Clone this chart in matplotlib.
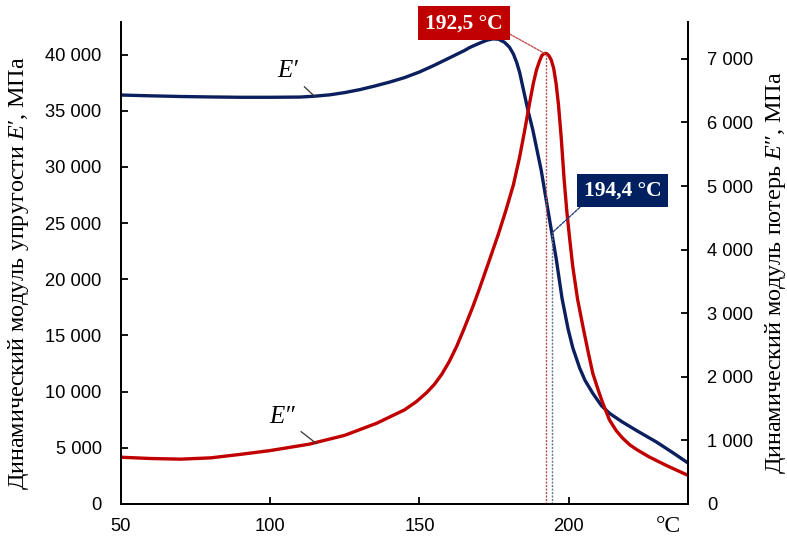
import matplotlib
matplotlib.use("Agg")
import matplotlib.pyplot as plt
from matplotlib.ticker import FuncFormatter

plt.rcParams['mathtext.fontset'] = 'custom'
plt.rcParams['mathtext.rm'] = 'Liberation Serif'
plt.rcParams['mathtext.it'] = 'Liberation Serif:italic'

# E' (storage modulus), left axis, MPa
t_storage = [50, 60, 70, 80, 90, 100, 110, 115, 120, 125, 130, 135, 140, 145, 150, 155,
             160, 165, 167, 170, 172.5, 174.6, 176.5, 178.5, 180.2, 181.5, 182.6, 183.6,
             185, 186.5, 188, 190.8, 192.5, 194.2, 195.8, 197.8, 199.8, 201.4, 203.7,
             205.5, 208.1, 211, 213.7, 218, 223, 229.4, 235, 240]
e_storage = [36400, 36330, 36270, 36230, 36200, 36200, 36220, 36300, 36420, 36620, 36880,
             37200, 37550, 37950, 38450, 39050, 39700, 40350, 40650, 41000, 41270, 41400,
             41370, 41100, 40650, 40050, 39300, 38400, 36700, 34900, 33300, 29720, 27050,
             24380, 21900, 18300, 15600, 13900, 12100, 11000, 9850, 8750, 8070, 7300, 6500,
             5520, 4550, 3650]

# E'' (loss modulus), right axis, MPa
t_loss = [50, 60, 70, 80, 90, 100, 113, 125, 135.7, 145, 149, 152.4, 155, 157.5, 160,
          162.5, 165, 167.8, 170, 173.5, 176.5, 179, 181.5, 183.6, 185.3, 186.9, 188.2,
          189.2, 190.2, 191, 191.8, 192.6, 193.4, 194.2, 195, 195.8, 196.6, 197.5, 198.5,
          199.4, 200.4, 201.4, 203, 204.8, 206.5, 208.1, 210, 211.5, 213.7, 216, 218,
          220.5, 223, 227, 233, 240]
e_loss = [735, 715, 705, 725, 780, 840, 940, 1080, 1270, 1480, 1610, 1750, 1880, 2040, 2240,
          2480, 2760, 3090, 3370, 3840, 4250, 4620, 5020, 5460, 5880, 6300, 6620,
          6820, 6960, 7050, 7085, 7085, 7050, 6980, 6850, 6615, 6280, 5775, 5100,
          4600, 4150, 3730, 3220, 2790, 2400, 2055, 1780, 1580, 1320, 1150, 1040,
          930, 850, 740, 600, 450]

x_ticks = [50, 100, 150, 200]
left_ticks = [0, 5000, 10000, 15000, 20000, 25000, 30000, 35000, 40000]
right_ticks = [0, 1000, 2000, 3000, 4000, 5000, 6000, 7000]

tg_loss = 192.5
tg_storage = 194.4
peak_loss = 7085
storage_at_tg = 24200

navy = '#0B1F5E'
red = '#C00000'

fig = plt.figure(figsize=(7.87, 5.37), dpi=100)
ax = fig.add_axes([0.1537, 0.0615, 0.7205, 0.8975])
ax2 = ax.twinx()

ax.plot(t_storage, e_storage, color=navy, lw=2.4, solid_capstyle='round')
ax2.plot(t_loss, e_loss, color=red, lw=2.4, solid_capstyle='round')

ax.set_xlim(50, 240)
ax.set_ylim(0, 42900)
ax2.set_ylim(0, 7580)

fmt = FuncFormatter(lambda v, p: f"{int(v):,}".replace(",", " "))
ax.set_xticks(x_ticks)
ax.set_yticks(left_ticks)
ax2.set_yticks(right_ticks)
ax.yaxis.set_major_formatter(fmt)
ax2.yaxis.set_major_formatter(fmt)

for a in (ax, ax2):
    a.spines['top'].set_visible(False)
    for s in a.spines.values():
        s.set_linewidth(1.3)
    a.tick_params(direction='in', length=5, width=1.3, labelsize=13.2,
                  labelfontfamily='Liberation Sans')
ax.tick_params(axis='y', pad=14)
ax2.tick_params(axis='y', pad=14)
ax.tick_params(axis='x', pad=10)

serif = ['Liberation Serif', 'DejaVu Serif']
fig.text(19 / 787, 1 - 273 / 537, "Динамический модуль упругости $E$′, МПа",
         rotation=90, rotation_mode='anchor', ha='center', va='center',
         family=serif, fontsize=17.4)
fig.text(775 / 787, 1 - 273 / 537, "Динамический модуль потерь $E$″, МПа",
         rotation=90, rotation_mode='anchor', ha='center', va='center',
         family=serif, fontsize=17.4)

ax.text(0.965, -0.025, "°C", transform=ax.transAxes, ha='center', va='top',
        family=serif, fontsize=17)

# vertical dotted lines at Tg
ax2.plot([tg_loss, tg_loss], [0, peak_loss], color='#B05050', lw=1.0, ls=(0, (1.5, 1)))
ax.plot([tg_storage, tg_storage], [0, storage_at_tg], color='#6A7590', lw=1.0, ls=(0, (1.5, 1)))

# curve labels
ax.annotate("E′", xy=(115, 36250), xytext=(106, 38500), textcoords='data',
            ha='center', va='center', fontsize=18, family=serif, style='italic',
            arrowprops=dict(arrowstyle='-', color='#333333', lw=0.9, shrinkA=3, shrinkB=0))
ax2.annotate("E″", xy=(115.5, 950), xytext=(104, 1370), textcoords='data',
             ha='center', va='center', fontsize=18, family=serif, style='italic',
             arrowprops=dict(arrowstyle='-', color='#333333', lw=0.9, shrinkA=3, shrinkB=0))

# Tg boxes
ax2.annotate("192,5 °C", xy=(tg_loss - 0.5, peak_loss), xytext=(165, 7560), textcoords='data',
             ha='center', va='center', color='white', fontsize=15.5, fontweight='bold',
             family=serif, annotation_clip=False,
             bbox=dict(boxstyle='square,pad=0.32', fc=red, ec='none'),
             arrowprops=dict(arrowstyle='-', color='#C05050', lw=1.0, ls=(0, (1.5, 1)),
                             relpos=(1.0, 0.15), shrinkA=0, shrinkB=0))
ax2.annotate("194,4 °C", xy=(tg_storage + 0.3, storage_at_tg), xycoords=ax.transData,
             xytext=(218, 4930), textcoords='data',
             ha='center', va='center', color='white', fontsize=15.5, fontweight='bold',
             family=serif,
             bbox=dict(boxstyle='square,pad=0.32', fc='#002060', ec='none'),
             arrowprops=dict(arrowstyle='-', color='#2A3F7A', lw=1.0, ls=(0, (2, 1)),
                             relpos=(0.05, 0.0), shrinkA=0, shrinkB=0))

fig.savefig("out.png", dpi=100)
